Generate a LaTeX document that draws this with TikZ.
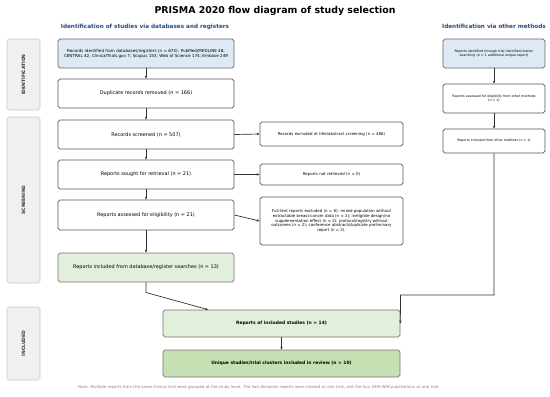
\documentclass[tikz,border=0pt]{standalone}
\usepackage{fontspec}
\setmainfont{DejaVu Sans}
\usetikzlibrary{arrows.meta,calc}
\definecolor{hdblue}{HTML}{2B4C7E}
\definecolor{bluefill}{HTML}{DDE9F5}
\definecolor{greenfill}{HTML}{E2EFDA}
\definecolor{greendark}{HTML}{C6E0B4}
\definecolor{sidefill}{HTML}{F0F0F0}
\definecolor{sidedraw}{HTML}{C8C8C8}
\definecolor{boxdraw}{HTML}{555555}
\tikzset{
  fbox/.style={draw=boxdraw, line width=0.7pt, rounded corners=1.8pt, fill=white, align=center, inner sep=1pt},
  mainbox/.style={fbox, minimum width=176pt, minimum height=29pt, font=\fontsize{4.95}{6}\selectfont},
  exbox/.style={fbox, minimum width=143pt, font=\fontsize{3.95}{4.8}\selectfont},
  othbox/.style={fbox, minimum width=102pt, font=\fontsize{3.25}{4.1}\selectfont},
  incbox/.style={fbox, minimum width=237pt, minimum height=27pt, font=\bfseries\fontsize{4.45}{5.4}\selectfont},
  sidebox/.style={draw=sidedraw, fill=sidefill, rounded corners=1.8pt, line width=0.6pt, minimum width=33pt},
  sidelabel/.style={rotate=90, font=\bfseries\fontsize{4.5}{5.4}\selectfont, text=black!80},
  conn/.style={draw=black!80, line width=0.7pt, -{Stealth[length=3pt,width=2.4pt]}},
  subhead/.style={font=\bfseries\fontsize{5.7}{6.8}\selectfont, text=hdblue}
}
\begin{document}
\begin{tikzpicture}[x=1pt,y=-1pt]
\useasboundingbox (0,0) rectangle (550,397);
% title
\node[font=\bfseries\fontsize{9.4}{11}\selectfont] (title) at (275,11) {PRISMA 2020 flow diagram of study selection};
\node[subhead] (h1) at (145,26.5) {Identification of studies via databases and registers};
\node[subhead] (h2) at (494,26.5) {Identification via other methods};
% side labels
\node[sidebox, minimum height=71pt] (sid) at (23.5,74.5) {};
\node[sidelabel] (sidt) at (sid.center) {IDENTIFICATION};
\node[sidebox, minimum height=166pt] (sscr) at (23.5,200) {};
\node[sidelabel] (sscrt) at (sscr.center) {SCREENING};
\node[sidebox, minimum height=73pt] (sinc) at (23.5,343.5) {};
\node[sidelabel] (sinct) at (sinc.center) {INCLUDED};
% main column
\node[mainbox, fill=bluefill, draw=black!60, font=\fontsize{4.1}{5.1}\selectfont] (b1) at (146,53.5) {Records identified from databases/registers (n = 673): PubMed/MEDLINE 48;\\CENTRAL 42; ClinicalTrials.gov 7; Scopus 153; Web of Science 174; Embase 249};
\node[mainbox] (b2) at (146,93.5) {Duplicate records removed (n = 166)};
\node[mainbox] (b3) at (146,134.5) {Records screened (n = 507)};
\node[mainbox] (b4) at (146,174.5) {Reports sought for retrieval (n = 21)};
\node[mainbox, minimum height=30pt] (b5) at (146,215) {Reports assessed for eligibility (n = 21)};
\node[mainbox, fill=greenfill, draw=black!55] (b6) at (146,267.5) {Reports included from database/register searches (n = 13)};
% excluded
\node[exbox, minimum height=24pt] (e1) at (331.5,134) {Records excluded at title/abstract screening (n = 486)};
\node[exbox, minimum height=21pt] (e2) at (331.5,174.5) {Reports not retrieved (n = 0)};
\node[exbox, minimum height=48pt] (e3) at (331.5,221) {Full-text reports excluded (n = 8): mixed population without\\extractable breast-cancer data (n = 2); ineligible design/no\\supplementation effect (n = 2); protocol/registry without\\outcomes (n = 2); conference abstract/duplicate preliminary\\report (n = 2).};
% other methods
\node[othbox, minimum height=29pt, fill=bluefill, draw=black!60] (o1) at (494,53.5) {Reports identified through trial identifier/citation\\searching (n = 1 additional unique report)};
\node[othbox, minimum height=29pt] (o2) at (494,98.5) {Reports assessed for eligibility from other methods\\(n = 1)};
\node[othbox, minimum height=24pt] (o3) at (494,141) {Reports included from other methods (n = 1)};
% included
\node[incbox, fill=greenfill, draw=black!55] (inc) at (281.5,323.5) {Reports of included studies (n = 14)};
\node[incbox, fill=greendark, draw=black!55] (fin) at (281.5,363.5) {Unique studies/trial clusters included in review (n = 10)};
% note
\node[font=\fontsize{3.95}{4.8}\selectfont, text=black!50] (note) at (259,387.5) {Note: Multiple reports from the same clinical trial were grouped at the study level. The two Almasoni reports were treated as one trial, and the four DHA-WIN publications as one trial.};
% connectors
\draw[conn] (b1) -- (b2);
\draw[conn] (b2) -- (b3);
\draw[conn] (b3) -- (b4);
\draw[conn] (b4) -- (b5);
\draw[conn] (b5) -- (b6);
\draw[conn] (b3.east) -- (e1.west);
\draw[conn] (b4.east) -- (e2.west);
\draw[conn] (b5.east) -- (e3.west);
\draw[conn] (o1) -- (o2);
\draw[conn] (o2) -- (o3);
\coordinate (k1) at (146,292.5);
\coordinate (k2) at ($(inc.north west)+(45.5,0)$);
\draw[conn] (b6.south) -- (k1) -- (k2);
\coordinate (m1) at (494,295);
\coordinate (m2) at (400.5,295);
\draw[conn] (o3.south) -- (m1) -- (m2) -- (inc.east);
\draw[conn] (inc) -- (fin);
\end{tikzpicture}
\end{document}
